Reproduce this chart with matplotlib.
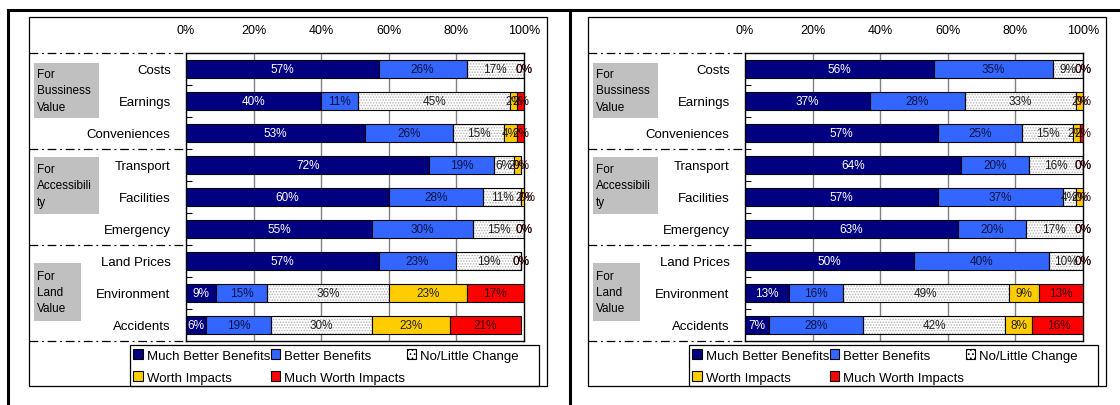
import matplotlib
matplotlib.use("Agg")
import matplotlib.pyplot as plt
from matplotlib.patches import Rectangle, Patch
from matplotlib.lines import Line2D
from matplotlib.transforms import blended_transform_factory

plt.rcParams["font.family"] = ["Liberation Sans", "DejaVu Sans"]
plt.rcParams["hatch.linewidth"] = 0.7

categories = ["Costs", "Earnings", "Conveniences", "Transport", "Facilities",
              "Emergency", "Land Prices", "Environment", "Accidents"]
series_names = ["Much Better Benefits", "Better Benefits", "No/Little Change",
                "Worth Impacts", "Much Worth Impacts"]
groups = ["For\nBussiness\nValue", "For\nAccessibili\nty", "For\nLand\nValue"]
tick_labels = ["0%", "20%", "40%", "60%", "80%", "100%"]

left_much_better = [57, 40, 53, 72, 60, 55, 57, 9, 6]
left_better = [26, 11, 26, 19, 28, 30, 23, 15, 19]
left_no_change = [17, 45, 15, 6, 11, 15, 19, 36, 30]
left_worth = [0, 2, 4, 2, 2, 0, 0, 23, 23]
left_much_worth = [0, 2, 2, 0, 0, 0, 0, 17, 21]

right_much_better = [56, 37, 57, 64, 57, 63, 50, 13, 7]
right_better = [35, 28, 25, 20, 37, 20, 40, 16, 28]
right_no_change = [9, 33, 15, 16, 4, 17, 10, 49, 42]
right_worth = [0, 2, 2, 0, 2, 0, 0, 9, 8]
right_much_worth = [0, 0, 2, 0, 0, 0, 0, 13, 16]

colors = ["#000080", "#3366FF", "white", "#FFCC00", "#FF0000"]
text_colors = ["white", "#101040", "#202020", "#202020", "#300000"]

W, H = 1120, 406
fig = plt.figure(figsize=(W / 100, H / 100), dpi=100)


def fx(px):
    return px / W


def fy(py):
    return 1 - py / H


def fig_line(xs, ys, **kw):
    fig.add_artist(Line2D([fx(x) for x in xs], [fy(y) for y in ys],
                          transform=fig.transFigure, **kw))


def fig_rect(x0, y0, x1, y1, **kw):
    fig.add_artist(Rectangle((fx(x0), fy(y1)), fx(x1) - fx(x0), fy(y0) - fy(y1),
                             transform=fig.transFigure, **kw))


# thick outer frame around both panels
fig_line([8, 8], [11, 406], color="black", lw=2.2)
fig_line([570, 570], [11, 406], color="black", lw=2.2)
fig_line([8, 1120], [11, 11], color="black", lw=2.2)


def draw_panel(off, values):
    # inner chart box
    fig_rect(29 + off, 18, 547 + off, 387, facecolor="none", edgecolor="black", lw=0.9)

    ax = fig.add_axes([fx(186 + off), fy(342), fx(338), (342 - 54) / H])
    y = list(range(len(categories)))
    left = [0] * len(categories)
    for i, vals in enumerate(values):
        if i == 2:
            ax.barh(y, vals, left=left, height=0.58, color="white",
                    edgecolor="#b4b4b4", hatch="......", lw=0, zorder=2)
            ax.barh(y, vals, left=left, height=0.58, color="none",
                    edgecolor="black", lw=0.8, zorder=3)
        else:
            ax.barh(y, vals, left=left, height=0.58, color=colors[i],
                    edgecolor="black", lw=0.8, zorder=3)
        for j, v in enumerate(vals):
            ax.text(left[j] + v / 2, j, f"{v}%", ha="center", va="center",
                    fontsize=8.5, color=text_colors[i], zorder=5)
        left = [a + b for a, b in zip(left, vals)]

    ax.set_xlim(0, 100)
    ax.set_ylim(len(categories) - 0.5, -0.5)
    ax.xaxis.tick_top()
    ax.set_xticks([0, 20, 40, 60, 80, 100])
    ax.set_xticklabels(tick_labels, fontsize=9)
    ax.tick_params(axis="x", length=0, pad=12)
    ax.set_yticks(y)
    ax.set_yticklabels(categories, fontsize=9.5)
    ax.tick_params(axis="y", which="major", length=0, pad=11)
    ax.set_yticks([k + 0.5 for k in range(len(categories) - 1)], minor=True)
    ax.tick_params(axis="y", which="minor", direction="in", length=4, width=0.8)
    for x in [20, 40, 60, 80]:
        ax.axvline(x, color="#808080", lw=1, zorder=1)
    for s in ax.spines.values():
        s.set_linewidth(1)

    # dash-dot separators between the groups
    tr = blended_transform_factory(ax.transAxes, ax.transData)
    x_start = (29 - 186) / 338
    for b in [-0.5, 2.5, 5.5, 8.5]:
        ax.plot([x_start, 0], [b, b], transform=tr, color="black", lw=0.9,
                dashes=(7, 3, 1.5, 3), clip_on=False)

    # grey group boxes
    boxes = [(34, 64, 99, 119), (34, 158, 99, 215), (34, 264, 81, 322)]
    for (x0, y0, x1, y1), name in zip(boxes, groups):
        fig_rect(x0 + off, y0, x1 + off, y1, facecolor="#C0C0C0", edgecolor="none")
        fig.text(fx(x0 + off + 3), fy((y0 + y1) / 2), name, ha="left", va="center",
                 fontsize=8.5, linespacing=1.45)

    # legend with its own frame
    fig_rect(130 + off, 346, 539 + off, 387, facecolor="none", edgecolor="black", lw=0.9)
    handles = [Patch(facecolor=colors[i], edgecolor="black", lw=0.8,
                     hatch="...." if i == 2 else None, label=series_names[i])
               for i in range(5)]
    order = [0, 3, 1, 4, 2]
    fig.legend([handles[k] for k in order], [series_names[k] for k in order],
               ncol=3, loc="upper left",
               bbox_to_anchor=(fx(132 + off), fy(349)),
               fontsize=9.5, frameon=False, borderpad=0.1,
               handlelength=0.7, handleheight=0.7, handletextpad=0.3,
               labelspacing=0.75, borderaxespad=0, columnspacing=0.1)


draw_panel(0, [left_much_better, left_better, left_no_change, left_worth, left_much_worth])
draw_panel(559, [right_much_better, right_better, right_no_change, right_worth, right_much_worth])

fig.savefig("out.png", dpi=100)
